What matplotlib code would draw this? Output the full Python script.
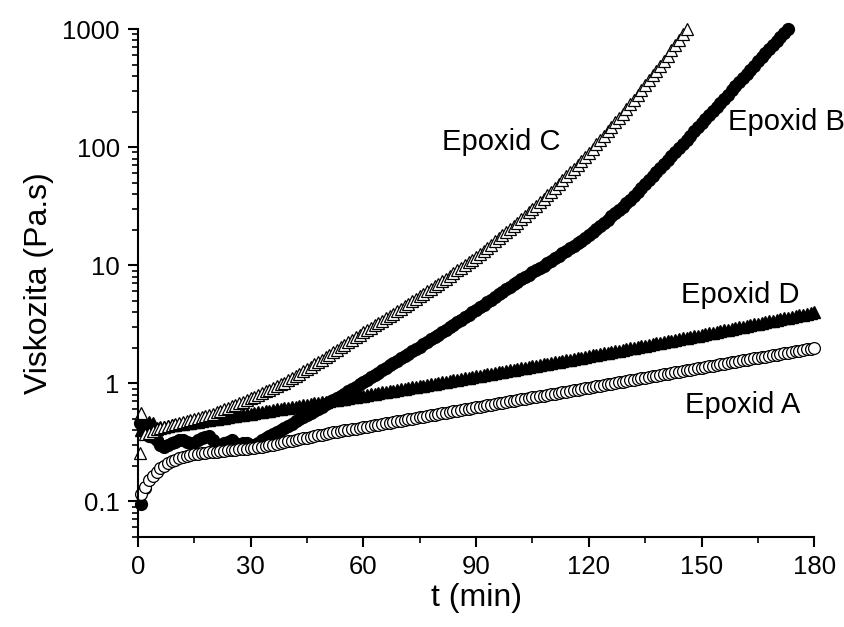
import numpy as np
import matplotlib
matplotlib.use("Agg")
import matplotlib.pyplot as plt
from matplotlib.ticker import LogLocator, FixedLocator, FuncFormatter, NullFormatter

plt.rcParams['font.family'] = ['Liberation Sans', 'DejaVu Sans']

# time grid (min), one reading per minute
t = np.arange(1, 181)

# viscosity (Pa.s)
epoxid_a = [0.115, 0.133, 0.15, 0.165, 0.178, 0.19, 0.20, 0.209, 0.218, 0.225,
            0.232, 0.237, 0.242, 0.246, 0.25, 0.253, 0.255, 0.257, 0.259, 0.261,
            0.263, 0.265, 0.267, 0.269, 0.271, 0.273, 0.275, 0.277, 0.279, 0.281,
            0.284, 0.286, 0.289, 0.293, 0.298, 0.302, 0.307, 0.311, 0.316, 0.321,
            0.326, 0.33, 0.335, 0.34, 0.345, 0.35, 0.356, 0.361, 0.366, 0.371,
            0.377, 0.382, 0.387, 0.392, 0.397, 0.402, 0.407, 0.412, 0.418, 0.423,
            0.429, 0.434, 0.44, 0.446, 0.452, 0.457, 0.463, 0.469, 0.475, 0.481,
            0.488, 0.494, 0.50, 0.506, 0.513, 0.52, 0.527, 0.534, 0.541, 0.548,
            0.555, 0.562, 0.569, 0.576, 0.584, 0.591, 0.599, 0.607, 0.615, 0.623,
            0.631, 0.639, 0.647, 0.655, 0.664, 0.673, 0.682, 0.69, 0.699, 0.708,
            0.718, 0.727, 0.736, 0.746, 0.756, 0.765, 0.775, 0.785, 0.796, 0.806,
            0.816, 0.827, 0.838, 0.849, 0.86, 0.871, 0.882, 0.893, 0.905, 0.917,
            0.929, 0.941, 0.953, 0.965, 0.978, 0.991, 1.004, 1.017, 1.03, 1.043,
            1.057, 1.07, 1.084, 1.098, 1.113, 1.127, 1.142, 1.157, 1.172, 1.187,
            1.202, 1.218, 1.234, 1.25, 1.266, 1.282, 1.299, 1.316, 1.333, 1.35,
            1.368, 1.386, 1.404, 1.422, 1.44, 1.459, 1.478, 1.497, 1.517, 1.536,
            1.556, 1.576, 1.597, 1.618, 1.639, 1.66, 1.681, 1.703, 1.725, 1.747,
            1.77, 1.793, 1.817, 1.84, 1.864, 1.888, 1.913, 1.938, 1.963, 1.99]

epoxid_b = [0.095, 0.13, 0.36, 0.35, 0.33, 0.30, 0.29, 0.30, 0.31, 0.32,
            0.33, 0.33, 0.32, 0.31, 0.31, 0.33, 0.34, 0.35, 0.36, 0.33,
            0.28, 0.29, 0.31, 0.32, 0.33, 0.31, 0.30, 0.31, 0.31, 0.30,
            0.30, 0.31, 0.33, 0.342, 0.355, 0.37, 0.385, 0.402, 0.419, 0.437,
            0.455, 0.474, 0.494, 0.515, 0.537, 0.56, 0.583, 0.608, 0.634, 0.661,
            0.689, 0.718, 0.748, 0.78, 0.813, 0.851, 0.891, 0.933, 0.977, 1.023,
            1.072, 1.122, 1.175, 1.23, 1.288, 1.349, 1.413, 1.479, 1.549, 1.622,
            1.698, 1.778, 1.862, 1.95, 2.042, 2.138, 2.239, 2.344, 2.455, 2.574,
            2.698, 2.831, 2.972, 3.119, 3.273, 3.436, 3.606, 3.785, 3.972, 4.173,
            4.385, 4.613, 4.853, 5.105, 5.37, 5.649, 5.943, 6.252, 6.577, 6.899,
            7.236, 7.568, 7.915, 8.279, 8.66, 9.058, 9.474, 9.907, 10.36, 10.86,
            11.39, 11.96, 12.57, 13.21, 13.88, 14.59, 15.33, 16.11, 16.93, 17.9,
            18.92, 20.14, 21.43, 22.81, 24.27, 25.83, 27.48, 29.24, 31.12, 33.38,
            35.81, 38.73, 41.88, 45.29, 48.98, 52.97, 57.28, 61.94, 66.99, 72.44,
            78.34, 84.72, 91.62, 99.08, 107.2, 115.9, 125.3, 135.5, 146.6, 158.7,
            171.8, 186.2, 201.8, 218.8, 237.1, 257.0, 278.6, 302.0, 327.3, 354.8,
            384.6, 416.9, 451.9, 489.8, 530.9, 575.4, 623.7, 676.1, 732.8, 794.3,
            861.0, 928.0, 1000.0]
b_start_t = [0.6]
b_start_v = [0.46]

epoxid_c = [0.56, 0.37, 0.38, 0.395, 0.407, 0.415, 0.423, 0.431, 0.439, 0.447,
            0.456, 0.465, 0.475, 0.485, 0.495, 0.505, 0.516, 0.527, 0.538, 0.552,
            0.566, 0.583, 0.601, 0.619, 0.638, 0.658, 0.678, 0.698, 0.719, 0.743,
            0.767, 0.794, 0.822, 0.851, 0.881, 0.912, 0.944, 0.977, 1.012, 1.053,
            1.096, 1.148, 1.202, 1.259, 1.318, 1.38, 1.445, 1.514, 1.585, 1.662,
            1.742, 1.828, 1.919, 2.014, 2.113, 2.218, 2.328, 2.443, 2.564, 2.688,
            2.818, 2.951, 3.09, 3.236, 3.388, 3.548, 3.715, 3.89, 4.074, 4.271,
            4.477, 4.699, 4.932, 5.176, 5.433, 5.702, 5.984, 6.281, 6.592, 6.934,
            7.295, 7.691, 8.11, 8.551, 9.016, 9.506, 10.02, 10.57, 11.14, 11.79,
            12.47, 13.24, 14.06, 14.93, 15.85, 16.83, 17.86, 18.97, 20.14, 21.46,
            22.86, 24.43, 26.12, 27.92, 29.85, 31.91, 34.12, 36.48, 38.99, 41.88,
            44.98, 48.53, 52.36, 56.49, 60.95, 65.77, 70.96, 76.56, 82.6, 89.54,
            97.05, 105.7, 115.1, 125.3, 136.5, 148.6, 161.8, 176.2, 191.9, 209.9,
            229.6, 252.3, 277.3, 304.8, 335.0, 368.2, 404.6, 444.6, 488.7, 539.5,
            595.7, 660.7, 732.8, 812.8, 901.5, 1000.0]
c_start_t = [0.7]
c_start_v = [0.255]

epoxid_d = [0.403, 0.44, 0.47, 0.46, 0.42, 0.425, 0.429, 0.433, 0.438, 0.443,
            0.448, 0.453, 0.458, 0.463, 0.468, 0.473, 0.478, 0.483, 0.489, 0.494,
            0.5, 0.505, 0.511, 0.517, 0.523, 0.529, 0.535, 0.541, 0.547, 0.553,
            0.559, 0.565, 0.572, 0.578, 0.585, 0.592, 0.599, 0.606, 0.613, 0.62,
            0.627, 0.634, 0.642, 0.649, 0.657, 0.665, 0.673, 0.681, 0.689, 0.697,
            0.705, 0.713, 0.722, 0.73, 0.739, 0.748, 0.757, 0.766, 0.776, 0.785,
            0.795, 0.804, 0.814, 0.824, 0.834, 0.844, 0.855, 0.865, 0.876, 0.887,
            0.898, 0.909, 0.92, 0.931, 0.943, 0.955, 0.967, 0.979, 0.991, 1.004,
            1.017, 1.03, 1.043, 1.056, 1.07, 1.083, 1.097, 1.111, 1.125, 1.14,
            1.154, 1.169, 1.184, 1.2, 1.215, 1.231, 1.247, 1.263, 1.28, 1.297,
            1.314, 1.331, 1.349, 1.367, 1.385, 1.403, 1.422, 1.441, 1.46, 1.479,
            1.499, 1.519, 1.54, 1.56, 1.581, 1.602, 1.624, 1.646, 1.669, 1.692,
            1.715, 1.738, 1.762, 1.786, 1.811, 1.836, 1.861, 1.886, 1.912, 1.939,
            1.966, 1.993, 2.021, 2.049, 2.078, 2.107, 2.137, 2.167, 2.197, 2.228,
            2.26, 2.292, 2.325, 2.358, 2.391, 2.425, 2.46, 2.495, 2.53, 2.566,
            2.603, 2.641, 2.679, 2.718, 2.757, 2.797, 2.838, 2.879, 2.921, 2.964,
            3.007, 3.051, 3.096, 3.142, 3.188, 3.235, 3.283, 3.332, 3.381, 3.432,
            3.483, 3.535, 3.588, 3.642, 3.696, 3.751, 3.807, 3.865, 3.923, 3.98]

labels = ["Epoxid A", "Epoxid B", "Epoxid C", "Epoxid D"]
label_pos = [(160.8, 0.65), (172.5, 163), (96.6, 110), (160.2, 5.57)]

fig = plt.figure(figsize=(8.45, 6.27), dpi=100)
ax = fig.add_axes([0.163, 0.144, 0.8007, 0.8097])

# filled series first, open markers on top
ax.plot(np.r_[b_start_t, t[:len(epoxid_b)]], np.r_[b_start_v, epoxid_b], ls='none',
        marker='o', ms=8.5, mfc='black', mec='black', clip_on=False)
ax.plot(t[:len(epoxid_d)], epoxid_d, ls='none', marker='^', ms=9,
        mfc='black', mec='black', clip_on=False)
ax.plot(t[:len(epoxid_a)], epoxid_a, ls='none', marker='o', ms=8.5,
        mfc='white', mec='black', mew=0.9, clip_on=False)
ax.plot(np.r_[c_start_t, t[:len(epoxid_c)]], np.r_[c_start_v, epoxid_c], ls='none',
        marker='^', ms=9, mfc='white', mec='black', mew=0.9, clip_on=False)

for txt, (x, y) in zip(labels, label_pos):
    ax.text(x, y, txt, fontsize=21, ha='center', va='center')

ax.set_yscale('log')
ax.set_xlim(0, 180)
ax.set_ylim(0.05, 1000)
ax.xaxis.set_major_locator(FixedLocator([0, 30, 60, 90, 120, 150, 180]))
ax.xaxis.set_minor_locator(FixedLocator([15, 45, 75, 105, 135, 165]))
ax.yaxis.set_major_locator(FixedLocator([0.1, 1, 10, 100, 1000]))
ax.yaxis.set_major_formatter(FuncFormatter(lambda v, p: '{:g}'.format(v)))
ax.yaxis.set_minor_locator(LogLocator(base=10, subs=np.arange(2, 10), numticks=20))
ax.yaxis.set_minor_formatter(NullFormatter())

for s in ['top', 'right']:
    ax.spines[s].set_visible(False)
for s in ['left', 'bottom']:
    ax.spines[s].set_linewidth(1.5)
ax.tick_params(which='major', direction='out', length=7, width=1.5, labelsize=18.5, pad=6)
ax.tick_params(which='minor', direction='out', length=4, width=1.2)

ax.set_xlabel('t (min)', fontsize=23, labelpad=3)
ax.set_ylabel('Viskozita (Pa.s)', fontsize=23, labelpad=6)

fig.savefig('out.png', dpi=100)
